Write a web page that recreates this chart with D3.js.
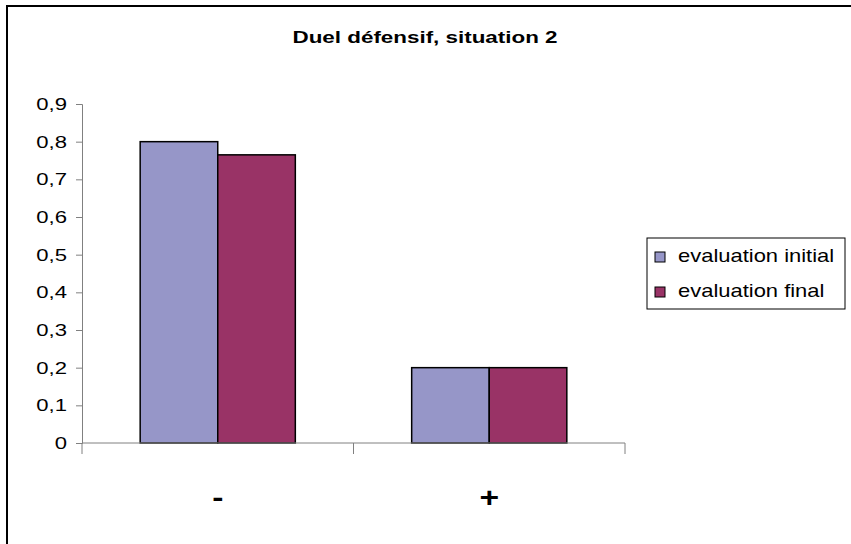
<!DOCTYPE html>
<html><head><meta charset="utf-8">
<script src="https://cdn.jsdelivr.net/npm/d3@7"></script>
<style>html,body{margin:0;padding:0;background:#fff;}svg{display:block;}</style>
</head><body>
<script>
const title = "Duel défensif, situation 2";
const categories = ["-", "+"];
const seriesNames = ["evaluation initial", "evaluation final"];
const initialValues = [0.8, 0.2];
const finalValues = [0.765, 0.2];
const tickValues = [0, 0.1, 0.2, 0.3, 0.4, 0.5, 0.6, 0.7, 0.8, 0.9];
const colors = ["#9696C8", "#993366"];

const W = 851, H = 544;
const svg = d3.select("body").append("svg").attr("width", W).attr("height", H);
svg.append("rect").attr("x", 7).attr("y", 6).attr("width", 900).attr("height", 600)
  .attr("fill", "#fff").attr("stroke", "#000").attr("stroke-width", 2);

const plot = {left: 82, right: 625, top: 104, bottom: 443};
const y = d3.scaleLinear().domain([0, 0.9]).range([plot.bottom, plot.top]);
const x = d3.scaleBand().domain(categories).range([plot.left, plot.right]).paddingInner(0).paddingOuter(0);
const xs = d3.scaleBand().domain(seriesNames).range([0, x.bandwidth()]).paddingInner(0).paddingOuter(0.75);

const fmt = v => String(+v.toFixed(1)).replace(".", ",");

function stretchedText(g, tx, ty, txt, size, sx, anchor, weight) {
  return g.append("text").attr("transform", `translate(${tx},${ty}) scale(${sx},1)`)
    .attr("text-anchor", anchor).attr("font-family", "Arial, 'Liberation Sans', sans-serif")
    .attr("font-size", size).attr("font-weight", weight || "normal").attr("fill", "#000").text(txt);
}

// Title
stretchedText(svg, 425, 43, title, 16, 1.4, "middle", "bold");

// Y axis
const yAxis = d3.axisLeft(y).tickValues(tickValues).tickSize(6).tickFormat("");
const gy = svg.append("g").attr("transform", `translate(${plot.left},0)`).call(yAxis);
gy.select(".domain").attr("stroke", "#808080").attr("stroke-width", 1);
gy.selectAll(".tick line").attr("stroke", "#808080");
tickValues.forEach(v => stretchedText(svg, 67, y(v) + 6, fmt(v), 17, 1.3, "end"));

// Bars
const data = categories.map((c, i) => ({cat: c, vals: [initialValues[i], finalValues[i]]}));
const groups = svg.selectAll("g.grp").data(data).join("g").attr("class", "grp")
  .attr("transform", d => `translate(${x(d.cat)},0)`);
groups.selectAll("rect").data(d => d.vals.map((v, j) => ({v, s: seriesNames[j], j})))
  .join("rect")
  .attr("x", d => xs(d.s)).attr("width", xs.bandwidth())
  .attr("y", d => y(d.v)).attr("height", d => y(0) - y(d.v))
  .attr("fill", d => colors[d.j]).attr("stroke", "#000").attr("stroke-width", 1.5);

// X axis
svg.append("line").attr("x1", plot.left).attr("x2", plot.right).attr("y1", y(0)).attr("y2", y(0))
  .attr("stroke", "#808080");
const xTicks = [plot.left].concat(categories.map(c => x(c) + x.bandwidth()));
svg.selectAll("line.xt").data(xTicks).join("line").attr("class", "xt")
  .attr("x1", d => d).attr("x2", d => d).attr("y1", y(0)).attr("y2", y(0) + 11).attr("stroke", "#808080");
categories.forEach(c => stretchedText(svg, x(c) + x.bandwidth() / 2, 507, c, 28, 1.2, "middle", "bold"));

// Legend
const lg = svg.append("g");
lg.append("rect").attr("x", 647).attr("y", 238).attr("width", 198).attr("height", 71)
  .attr("fill", "#fff").attr("stroke", "#000").attr("stroke-width", 1);
seriesNames.forEach((s, i) => {
  const yy = 252 + i * 35;
  lg.append("rect").attr("x", 655).attr("y", yy).attr("width", 10).attr("height", 10)
    .attr("fill", colors[i]).attr("stroke", "#000").attr("stroke-width", 1);
  stretchedText(lg, 678, yy + 10, s, 18, 1.22, "start");
});
</script>
</body></html>
